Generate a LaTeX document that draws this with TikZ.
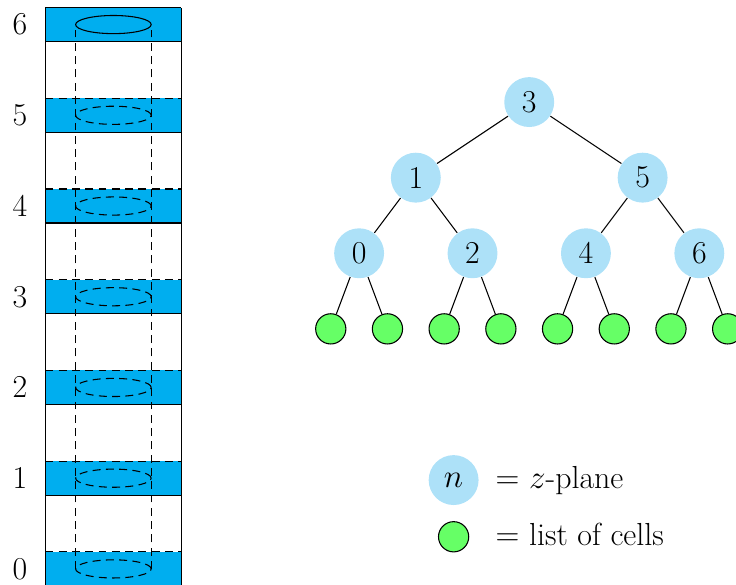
\documentclass[tikz,border=0pt]{standalone}
\usepackage{amsmath}
\usepackage{xcolor}
\usepackage{tikz}
\definecolor{band}{HTML}{00AEEF}
\definecolor{plane}{HTML}{ADE1F8}
\definecolor{cells}{HTML}{66FF66}

\begin{document}
\begin{tikzpicture}[font=\fontsize{24}{29}\selectfont,line width=0.8pt,
  dsh/.style={dash pattern=on 6pt off 4pt},
  zplane/.style={circle,fill=plane,minimum size=1.32cm,inner sep=0pt},
  cellist/.style={circle,draw,fill=cells,minimum size=0.8cm,inner sep=0pt},
  keytext/.style={anchor=base west,inner sep=0pt}]
  \useasboundingbox (0,0.05) rectangle (19.47,15.5);
  \foreach \i in {0,...,6} {
    \pgfmathsetmacro{\y}{2.4*\i}
    \ifnum\i=6 \def\st{solid}\else\def\st{dsh}\fi
    \fill[band] (1.2,\y) rectangle (4.8,\y+0.9);
    \draw (1.2,\y) -- (4.8,\y);
    \draw[\st] (1.2,\y+0.9) -- (4.8,\y+0.9);
    \draw[\st] (3,\y+0.45) ellipse (1 and 0.24);
    \node (lv\i) at (0.53,\y+0.45) {\i};
  }
  \draw (1.2,0) -- (1.2,15.3);
  \draw (4.8,0) -- (4.8,15.3);
  \draw[dsh] (2,0.45) -- (2,14.85);
  \draw[dsh] (4,0.45) -- (4,14.85);

  \node[zplane] (z3) at (14,12.8) {3};
  \node[zplane] (z1) at (11,10.8) {1};
  \node[zplane] (z5) at (17,10.8) {5};
  \draw (z3) -- (z1);
  \draw (z3) -- (z5);
  \foreach \n/\p in {0/1,2/1,4/5,6/5} {
    \pgfmathsetmacro{\x}{9.5+1.5*\n}
    \node[zplane] (z\n) at (\x,8.8) {\n};
    \node[cellist] (c\n a) at (\x-0.75,6.8) {};
    \node[cellist] (c\n b) at (\x+0.75,6.8) {};
    \draw (z\p) -- (z\n);
    \draw (z\n) -- (c\n a);
    \draw (z\n) -- (c\n b);
  }

  \node[zplane] (key1) at (12,2.8) {$n$};
  \node[keytext] (key1txt) at (13.1,2.59) {$=$ $z$-plane};
  \node[cellist] (key2) at (12,1.3) {};
  \node[keytext] (key2txt) at (13.1,1.07) {$=$ list of cells};
\end{tikzpicture}
\end{document}
